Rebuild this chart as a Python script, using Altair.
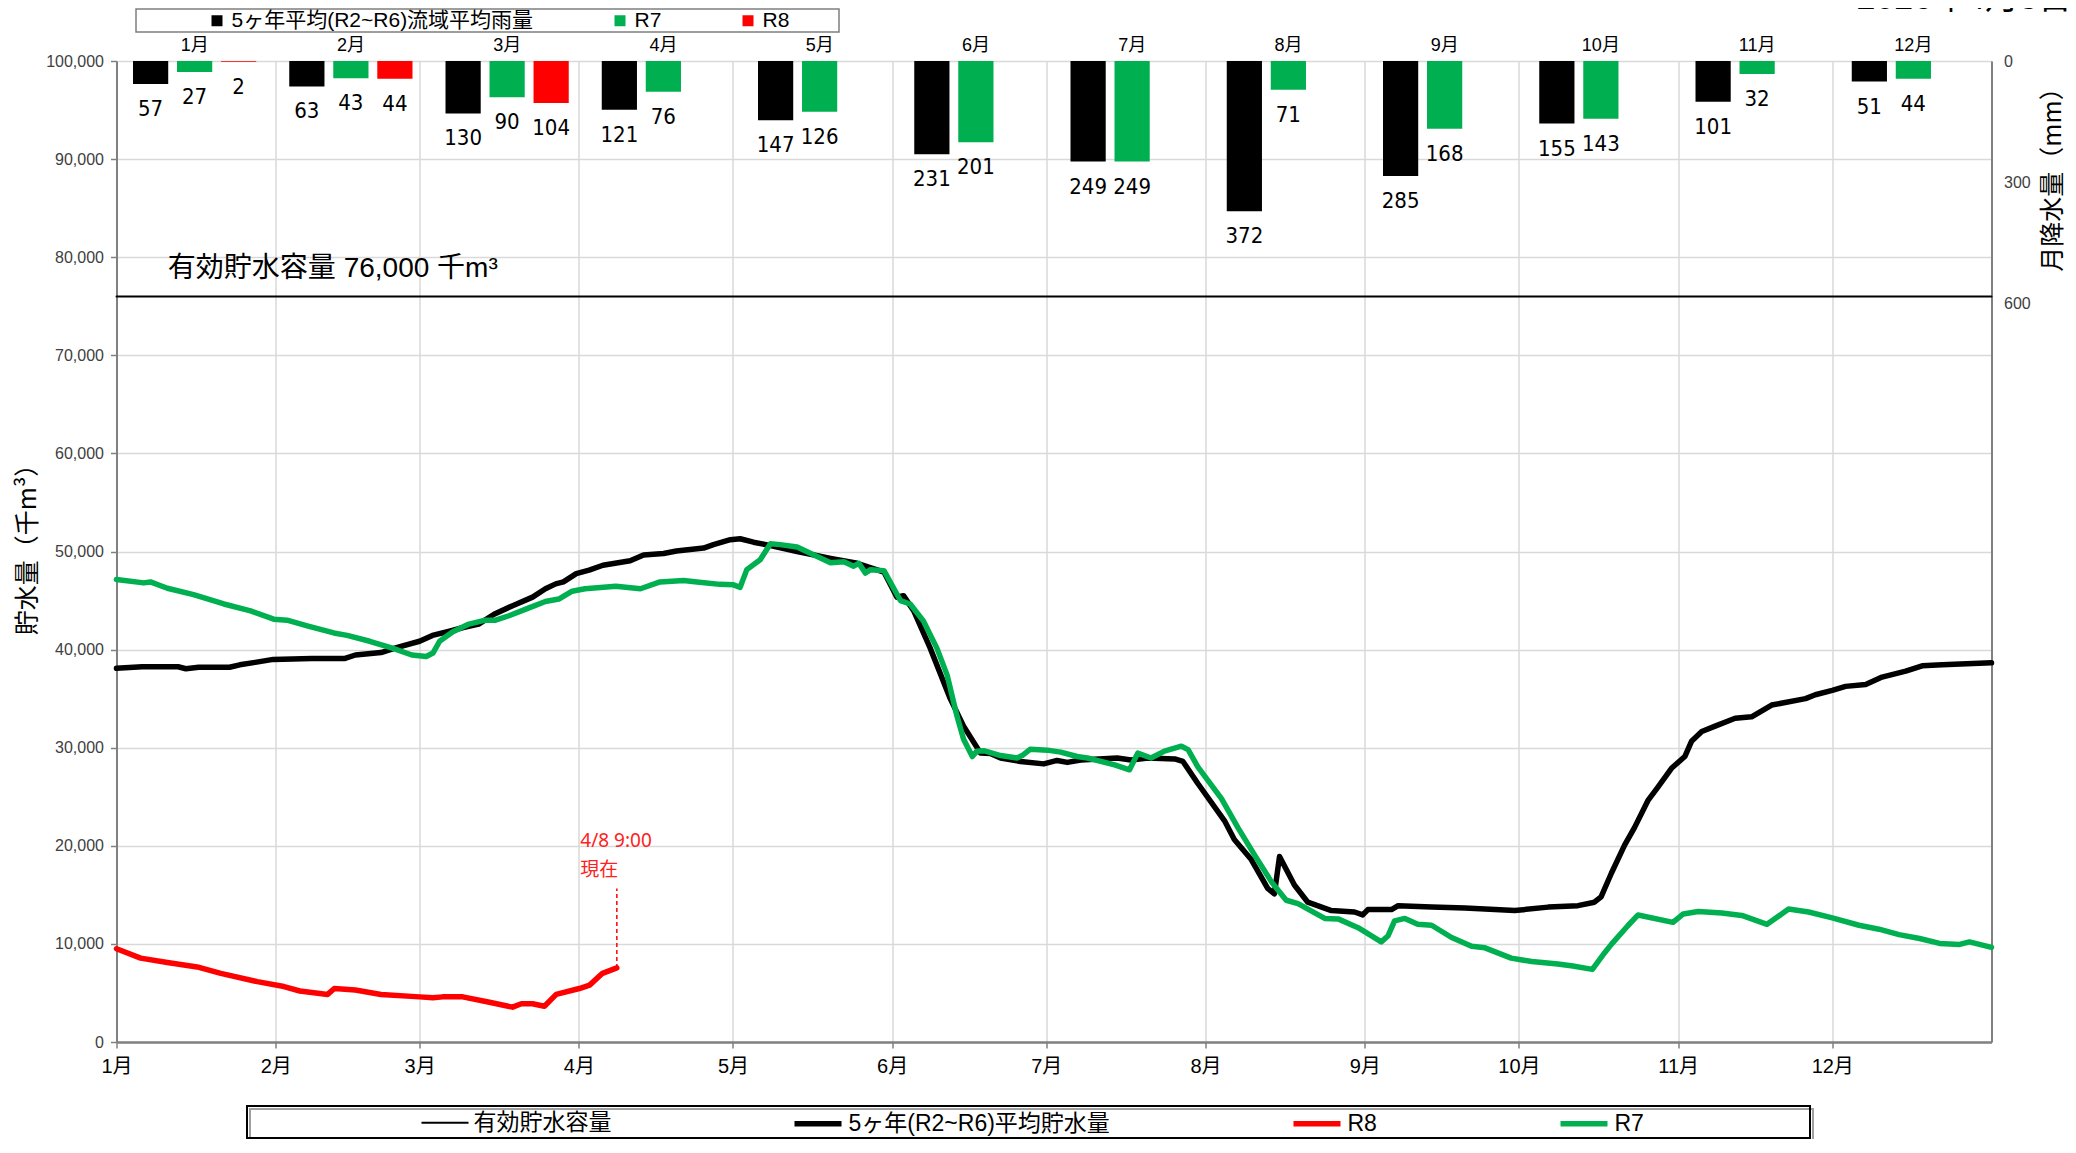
import json
import altair as alt
import pandas as pd

# ---------------- data ----------------
month_labels = ["1月", "2月", "3月", "4月", "5月", "6月", "7月", "8月", "9月", "10月", "11月", "12月"]
month_start_days = [0, 31, 59, 90, 120, 151, 181, 212, 243, 273, 304, 334]

rain_series = ["5ヶ年平均(R2~R6)流域平均雨量", "R7", "R8"]
rain_colors = ["#000000", "#00B050", "#FF0000"]
rain_avg = [57, 63, 130, 121, 147, 231, 249, 372, 285, 155, 101, 51]
rain_r7 = [27, 43, 90, 76, 126, 201, 249, 71, 168, 143, 32, 44]
rain_r8 = [2, 44, 104]

line_series = ["有効貯水容量", "5ヶ年(R2~R6)平均貯水量", "R8", "R7"]
line_colors = ["#000000", "#000000", "#FF0000", "#00B050"]
line_widths = [2, 5.5, 5.5, 5.5]

capacity_days = [0, 365]
capacity_vals = [76000, 76000]

avg_days = [0, 5, 12, 13.5, 16, 22, 24, 27, 30.5, 38, 44.5, 46.5, 51.5, 54.5, 59, 61.5, 65, 67.5,
            70.5, 73.5, 77, 81, 83.5, 85.5, 87, 89.5, 92, 94.7, 100, 102.6, 106.5, 109, 114.3,
            116.2, 119.5, 121.4, 124, 127.3, 132.5, 139, 144.2, 149.4, 151.9, 153.2, 155.2, 158.4,
            162.3, 164.9, 168.2, 170.1, 172.1, 176, 180.5, 183.1, 185.1, 187.7, 194.8, 197.5,
            200.8, 206, 207.6, 210.5, 215.7, 217.6, 220.9, 224.1, 225.4, 226.4, 229.3, 231.9,
            236.5, 241, 242.6, 243.6, 248.2, 249.5, 256, 262.5, 272.2, 278.7, 284.5, 287.7, 289,
            291, 293.6, 295.5, 298.1, 300.1, 302.7, 305.3, 306.6, 308.6, 311.2, 315.1, 318.3,
            322.2, 328.8, 330.7, 334, 336.6, 340.5, 343.7, 348.3, 351.5, 355.4, 365]
avg_vals = [38100, 38250, 38250, 38050, 38200, 38200, 38450, 38700, 39000, 39100, 39100, 39450,
            39700, 40200, 40850, 41450, 41900, 42250, 42600, 43600, 44450, 45350, 46200, 46700,
            46900, 47750, 48100, 48600, 49050, 49650, 49800, 50050, 50350, 50700, 51200, 51300,
            50950, 50600, 50000, 49300, 48800, 47900, 45350, 45500, 43950, 40150, 35000, 32200,
            29450, 29400, 28950, 28600, 28350, 28700, 28500, 28750, 28950, 28750, 28950, 28850,
            28600, 26350, 22550, 20650, 18600, 15650, 15100, 18900, 16000, 14250, 13400, 13250,
            12950, 13500, 13500, 13900, 13750, 13650, 13400, 13750, 13900, 14250, 14800, 17200,
            20100, 21850, 24600, 26000, 27900, 29100, 30650, 31650, 32200, 33000, 33150, 34350,
            35000, 35400, 35850, 36250, 36450, 37200, 37800, 38350, 38450, 38650]

r7_days = [0, 5.3, 6.6, 9.9, 15, 20.9, 26.1, 30.6, 33.2, 37.3, 42.3, 44.9, 49.3, 53.7, 57.5, 60.3,
           61.6, 62.9, 65.4, 68.6, 71.8, 73.8, 76.4, 80.3, 83.5, 86.1, 88.7, 91.2, 97.2, 102,
           105.8, 110.4, 113, 117.5, 120.1, 121.4, 122.7, 125.3, 127.3, 129.2, 132.5, 136.4, 139,
           141.6, 143.5, 144.5, 145.8, 146.8, 149.4, 152.6, 154.5, 157.1, 159.7, 161.7, 163.6,
           164.9, 166.6, 167.5, 168.8, 172.1, 175.3, 176.3, 177.9, 181.2, 183.8, 187, 189, 194.3,
           197.2, 198.8, 201.4, 204, 207.3, 208.6, 210.5, 215.1, 218.3, 221.5, 224.8, 227.7, 230,
           235.2, 237.8, 241.7, 246.2, 247.5, 248.8, 250.8, 253.3, 256, 259.9, 263.8, 266.4,
           271.5, 275.5, 280.6, 283.5, 287.3, 289.7, 291, 294.2, 296.2, 303, 305, 307.9, 312.5,
           316.4, 321.3, 325.5, 329.4, 334, 339.2, 343.1, 347, 351, 354.9, 358.8, 360.7, 365]
r7_vals = [47150, 46800, 46900, 46250, 45600, 44650, 43950, 43100, 43000, 42400, 41700, 41450,
           40850, 40150, 39450, 39300, 39650, 40850, 41800, 42600, 43000, 43000, 43450, 44250,
           44900, 45150, 45950, 46200, 46450, 46200, 46900, 47050, 46900, 46650, 46600, 46350,
           48150, 49150, 50800, 50700, 50450, 49500, 48850, 48950, 48500, 48800, 47800, 48150,
           48050, 45000, 44650, 42900, 40150, 37400, 33250, 30850, 29100, 29650, 29700, 29200,
           28950, 29200, 29850, 29750, 29550, 29100, 28950, 28250, 27750, 29450, 28950, 29650,
           30150, 29800, 28050, 24800, 21850, 19100, 16350, 14450, 14100, 12600, 12550, 11650,
           10200, 10800, 12350, 12600, 12000, 11900, 10650, 9750, 9600, 8550, 8200, 7950, 7750,
           7400, 9100, 9950, 11850, 12950, 12200, 13050, 13300, 13150, 12900, 12000, 13550, 13250,
           12650, 11900, 11500, 10950, 10550, 10050, 9950, 10200, 9650]

r8_days = [0, 4.7, 9.9, 15.7, 20.3, 27.4, 32.6, 35.7, 41.1, 42.4, 46.5, 51.5, 59, 61.6, 63.5,
           67.4, 72.6, 77.1, 78.8, 81, 83.3, 85.6, 90.1, 92.1, 94.6, 97.4]
r8_vals = [9500, 8550, 8100, 7650, 7000, 6150, 5650, 5200, 4850, 5450, 5300, 4850, 4600, 4500,
           4600, 4600, 4050, 3550, 3900, 3900, 3650, 4850, 5450, 5800, 7000, 7550]

capacity_text = "有効貯水容量 76,000 千m³"
capacity_text_day = 10
capacity_text_val = 78800

now_day = 97.4
now_line_vals = [7550, 15650]
now_texts = ["4/8 9:00", "現在"]
now_text_day = 90.3
now_text_vals = [20500, 17550]

date_text = "2026年4月8日"

# ---------------- styling ----------------
FONT_JP = "Noto Sans CJK JP"
FONT_NUM = "Liberation Sans, Noto Sans CJK JP"
FONT_NARROW = "Liberation Sans Narrow, DejaVu Sans Condensed, Liberation Sans"
GRID = "#D9D9D9"
AXISC = "#808080"

W, H = 1875, 981

# ---------------- tables ----------------
rows = []
for s, ds, vs in [(line_series[0], capacity_days, capacity_vals),
                  (line_series[1], avg_days, avg_vals),
                  (line_series[2], r8_days, r8_vals),
                  (line_series[3], r7_days, r7_vals)]:
    for d, v in zip(ds, vs):
        rows.append({"series": s, "day": d, "value": v})
lines_df = pd.DataFrame(rows)

bar_rows = []
for i, m in enumerate(month_labels):
    bar_rows.append({"month": m, "series": rain_series[0], "rain": rain_avg[i]})
    bar_rows.append({"month": m, "series": rain_series[1], "rain": rain_r7[i]})
    if i < len(rain_r8):
        bar_rows.append({"month": m, "series": rain_series[2], "rain": rain_r8[i]})
bars_df = pd.DataFrame(bar_rows)

label_expr = "{}[indexof({}, datum.value)]".format(
    json.dumps(month_labels, ensure_ascii=False), json.dumps(month_start_days))

X_DAY = alt.X(
    "day:Q",
    scale=alt.Scale(domain=[0, 365], nice=False, zero=False),
    axis=alt.Axis(values=month_start_days, labelExpr=label_expr, title=None, grid=True,
                  gridColor=GRID, gridWidth=1.5, tickSize=6, tickColor=AXISC, tickWidth=1.5,
                  domainColor=AXISC, domainWidth=2.5, labelFont=FONT_NUM, labelFontSize=20,
                  labelColor="#000000", labelPadding=8, labelFlush=False, labelAlign="center"),
)
Y_VAL = alt.Y(
    "value:Q",
    scale=alt.Scale(domain=[0, 100000], nice=False),
    axis=alt.Axis(values=list(range(0, 100001, 10000)), format=",d", grid=True, gridColor=GRID,
                  gridWidth=1.5, tickSize=6, tickColor=AXISC, tickWidth=1.5, domainColor=AXISC,
                  domainWidth=2, labelFont=FONT_NUM, labelFontSize=16, labelColor="#404040",
                  labelPadding=7, title="貯水量（千m³）", titleFont=FONT_JP, titleFontSize=25,
                  titleFontWeight="normal", titleColor="#000000", titleAngle=270, titleX=-89,
                  titleY=482, titleAlign="center", titleBaseline="middle"),
)

line_legend = alt.Legend(orient="none", legendX=304, legendY=1036, direction="horizontal",
                         title=None, symbolType="stroke", symbolSize=2209, labelFont=FONT_NUM,
                         labelFontSize=23, labelColor="#000000", columnPadding=172,
                         labelOffset=4, padding=0, labelLimit=600)

lines = alt.Chart(lines_df).mark_line(strokeJoin="round", strokeCap="round").encode(
    x=X_DAY,
    y=Y_VAL,
    stroke=alt.Stroke("series:N", scale=alt.Scale(domain=line_series, range=line_colors),
                      legend=line_legend),
    strokeWidth=alt.StrokeWidth("series:N",
                                scale=alt.Scale(type="ordinal", domain=line_series, range=line_widths),
                                legend=line_legend),
)

cap_df = pd.DataFrame({"day": [capacity_text_day], "value": [capacity_text_val], "text": [capacity_text]})
cap_text = alt.Chart(cap_df).mark_text(align="left", baseline="middle", font=FONT_NUM,
                                       fontSize=28, color="#000000").encode(
    x=X_DAY, y=Y_VAL, text="text:N")

now_rule_df = pd.DataFrame({"day": [now_day], "value": [now_line_vals[0]], "value2": [now_line_vals[1]]})
now_rule = alt.Chart(now_rule_df).mark_rule(color="#FF0000", strokeDash=[4, 3], strokeWidth=1.5).encode(
    x=X_DAY, y=Y_VAL, y2="value2:Q")

now_df = pd.DataFrame({"day": [now_text_day] * 2, "value": now_text_vals, "text": now_texts})
now_text = alt.Chart(now_df).mark_text(align="left", baseline="middle", font="Noto Sans, Noto Sans CJK JP",
                                       fontSize=19, color="#FF2020").encode(
    x=X_DAY, y=Y_VAL, text="text:N")

storage = alt.layer(lines, cap_text, now_rule, now_text)

# ---- rain bars (top, reversed, right axis) ----
BAR_X = alt.X("month:N", sort=month_labels,
              scale=alt.Scale(domain=month_labels, paddingInner=0, paddingOuter=0),
              axis=alt.Axis(orient="top", labelAngle=0, ticks=False, domain=False, grid=False,
                            labelFont=FONT_NUM, labelFontSize=18, labelColor="#000000",
                            labelPadding=7, title=None))
BAR_XO = alt.XOffset("series:N", sort=rain_series,
                     scale=alt.Scale(domain=rain_series, paddingInner=0.2, paddingOuter=0.375))
BAR_Y = alt.Y("rain:Q", scale=alt.Scale(domain=[0, 2430], reverse=True, nice=False),
              axis=alt.Axis(orient="right", values=[0, 300, 600], grid=False, ticks=False,
                            domainColor=AXISC, domainWidth=2, labelFont=FONT_NUM, labelFontSize=16,
                            labelColor="#404040", labelPadding=12, title="月降水量（mm）",
                            titleFont=FONT_JP, titleFontSize=25, titleFontWeight="normal",
                            titleColor="#000000", titleAngle=270, titleX=61, titleY=112,
                            titleAlign="center", titleBaseline="middle"))

bar_legend = alt.Legend(orient="none", legendX=90, legendY=-51, direction="horizontal", title=None,
                        symbolType="square", symbolSize=121, symbolStrokeWidth=0,
                        labelFont=FONT_NUM, labelFontSize=21, labelColor="#000000",
                        columnPadding=76, labelOffset=4, padding=0, labelLimit=600)

bars = alt.Chart(bars_df).mark_bar().encode(
    x=BAR_X, xOffset=BAR_XO, y=BAR_Y,
    fill=alt.Fill("series:N", scale=alt.Scale(domain=rain_series, range=rain_colors), legend=bar_legend),
)
bar_labels = alt.Chart(bars_df).mark_text(baseline="middle", dy=25, font=FONT_NARROW, fontSize=22,
                                          color="#000000").encode(
    x=BAR_X, xOffset=BAR_XO, y=BAR_Y, text="rain:Q")

# ---- frames and date (decoration) ----
one = pd.DataFrame({"a": [0]})
top_frame = alt.Chart(one).mark_rect(fill="white", fillOpacity=0, stroke="#7F7F7F", strokeWidth=1.5).encode(
    x=alt.value(19.5), x2=alt.value(722.5), y=alt.value(-52), y2=alt.value(-29))
bot_shadow = alt.Chart(one).mark_rect(fill="white", fillOpacity=0, stroke="#A0A0A0", strokeWidth=2).encode(
    x=alt.value(133.5), x2=alt.value(1696.5), y=alt.value(1048), y2=alt.value(1080))
bot_frame = alt.Chart(one).mark_rect(fill="white", fillOpacity=0, stroke="#000000", strokeWidth=2).encode(
    x=alt.value(130.5), x2=alt.value(1693.5), y=alt.value(1045), y2=alt.value(1077))
date_df = pd.DataFrame({"text": [date_text]})
date_mark = alt.Chart(date_df).mark_text(align="right", baseline="alphabetic", font=FONT_NUM,
                                         fontSize=34, color="#000000").encode(
    x=alt.value(1955.5), y=alt.value(-52), text="text:N")

rain = alt.layer(bars, bar_labels, top_frame, bot_shadow, bot_frame, date_mark)

chart = alt.layer(storage, rain).resolve_scale(
    x="independent", y="independent"
).properties(
    width=W, height=H,
    padding={"left": 108.5, "top": 53, "right": 76.5, "bottom": 97},
    autosize=alt.AutoSizeParams(type="none"),
).configure_view(stroke=None).configure(background="white")

chart.save("out.html", embed_options={"renderer": "svg", "actions": False})
